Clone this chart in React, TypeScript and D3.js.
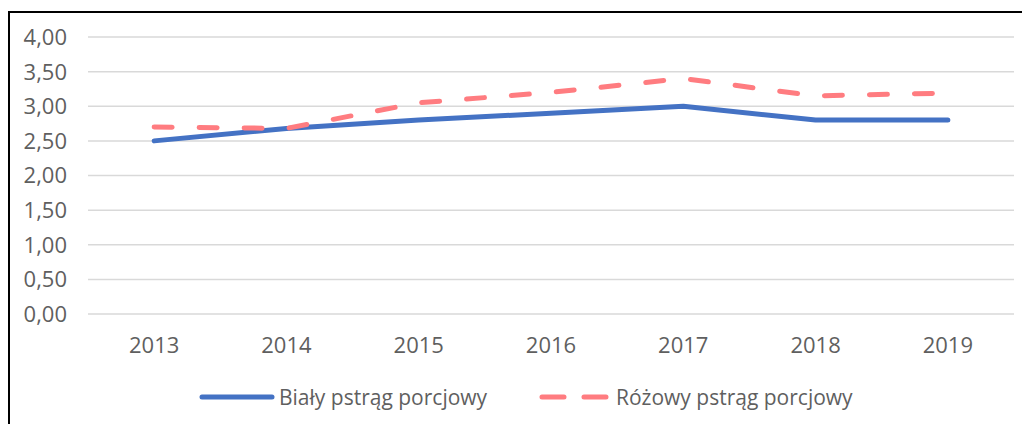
import * as d3 from "d3";

const years = ["2013", "2014", "2015", "2016", "2017", "2018", "2019"];
const bialy = [2.5, 2.68, 2.8, 2.9, 3.0, 2.8, 2.8];
const rozowy = [2.7, 2.68, 3.05, 3.2, 3.4, 3.15, 3.19];
const yTicks = [0, 0.5, 1, 1.5, 2, 2.5, 3, 3.5, 4];

const W = 1022;
const H = 424;
const font = "'Open Sans', 'Noto Sans', sans-serif";
const textColor = "#5f5f5f";

export default function App() {
  const x = d3.scaleBand().domain(years).range([88, 1014]);
  const y = d3.scaleLinear().domain([0, 4]).range([314, 37]);
  const cx = (d: string) => (x(d) ?? 0) + x.bandwidth() / 2;
  const line = d3
    .line<number>()
    .x((_, i) => cx(years[i]))
    .y((v) => y(v));
  const fmt = (v: number) => v.toFixed(2).replace(".", ",");

  return (
    <svg
      width={W}
      height={H}
      style={{ position: "absolute", left: 0, top: 0, background: "#fff" }}
    >
      <rect x={0} y={0} width={W} height={H} fill="#fff" />
      {/* frame */}
      <line x1={9} y1={12} x2={W} y2={12} stroke="#000" strokeWidth={2} />
      <line x1={9} y1={11} x2={9} y2={H} stroke="#000" strokeWidth={2} />

      {yTicks.map((t) => (
        <g key={t}>
          <line x1={88} x2={1014} y1={y(t)} y2={y(t)} stroke="#d9d9d9" strokeWidth={1.5} />
          <text
            x={67}
            y={y(t)}
            dy="0.36em"
            textAnchor="end"
            fontFamily={font}
            fontSize={22}
            fill={textColor}
          >
            {fmt(t)}
          </text>
        </g>
      ))}

      {years.map((yr) => (
        <text
          key={yr}
          x={cx(yr)}
          y={345}
          dy="0.36em"
          textAnchor="middle"
          fontFamily={font}
          fontSize={22}
          fill={textColor}
        >
          {yr}
        </text>
      ))}

      <path d={line(bialy) ?? ""} fill="none" stroke="#4472c4" strokeWidth={5} strokeLinecap="round" strokeLinejoin="round" />
      <path
        d={line(rozowy) ?? ""}
        fill="none"
        stroke="#ff7c80"
        strokeWidth={5}
        strokeLinecap="round"
        strokeDasharray="18 27"
      />

      {/* legend */}
      <line x1={202} x2={272} y1={397} y2={397} stroke="#4472c4" strokeWidth={5} strokeLinecap="round" />
      <text x={279} y={397} dy="0.36em" fontFamily={font} fontSize={21} fill={textColor}>
        Biały pstrąg porcjowy
      </text>
      <line x1={542} x2={606} y1={397} y2={397} stroke="#ff7c80" strokeWidth={5} strokeLinecap="round" strokeDasharray="22 20" />
      <text x={616} y={397} dy="0.36em" fontFamily={font} fontSize={21} fill={textColor}>
        Różowy pstrąg porcjowy
      </text>
    </svg>
  );
}
